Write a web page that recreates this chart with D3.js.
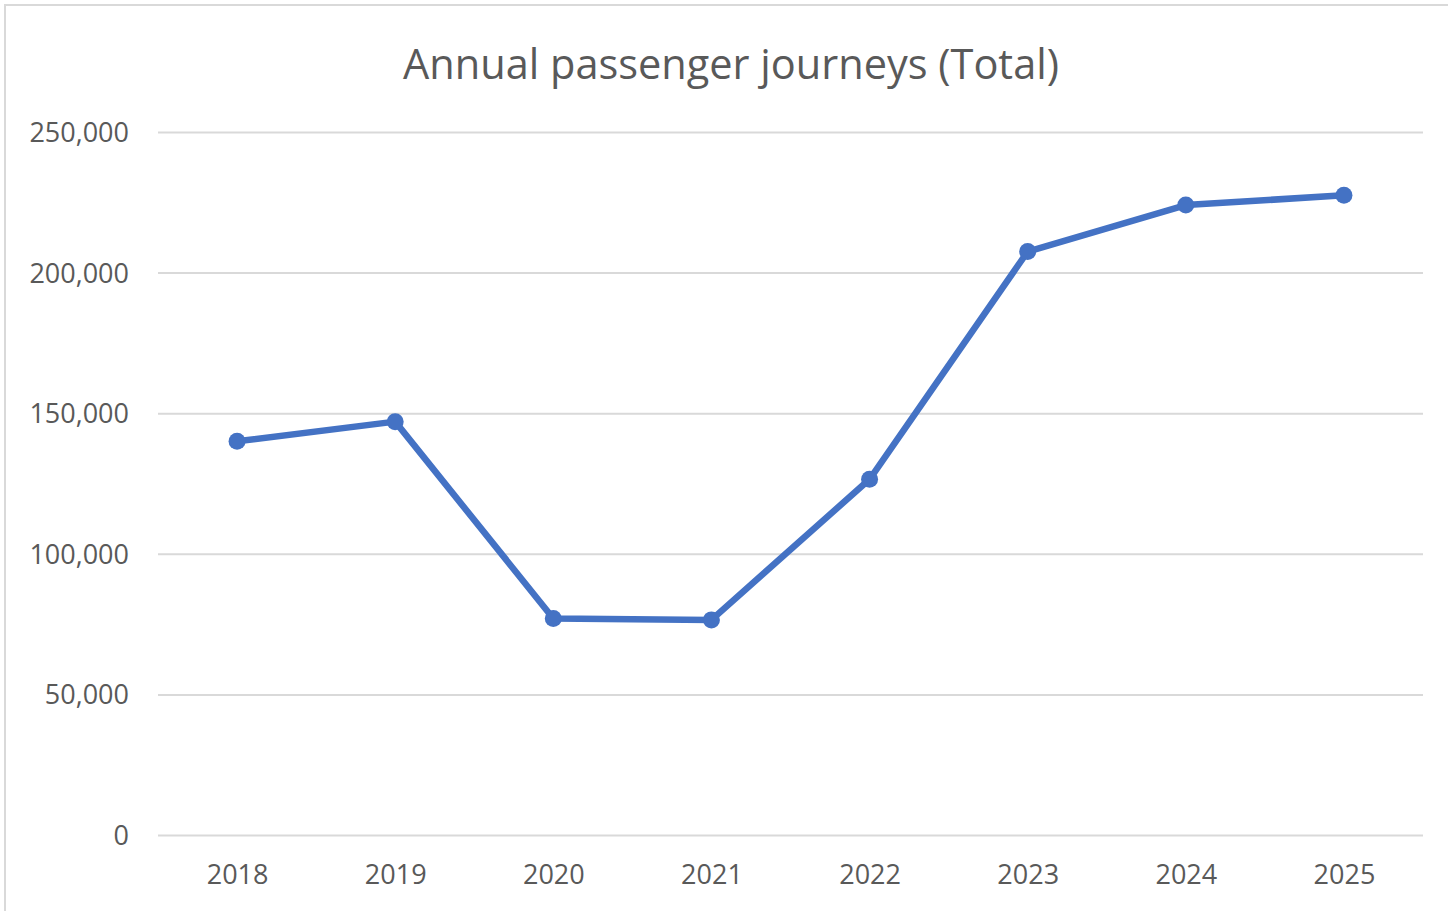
<!DOCTYPE html>
<html>
<head>
<meta charset="utf-8">
<script src="https://cdn.jsdelivr.net/npm/d3@7"></script>
<style>
    body { margin: 0; background: #fff; }
    text { font-family: "Open Sans", "Noto Sans", sans-serif; fill: #595959; }
</style>
</head>
<body>
<svg id="chart"></svg>
<script>
// chart data
var years = ["2018", "2019", "2020", "2021", "2022", "2023", "2024", "2025"];
var journeys = [140000, 147000, 77000, 76500, 126500, 207500, 224000, 227500];
var yTicks = [0, 50000, 100000, 150000, 200000, 250000];
var title = "Annual passenger journeys (Total)";

var width = 1448;
var height = 911;
var margin = { "left": 158, "right": 25, "top": 132, "bottom": 76 };
var plotW = width - margin.left - margin.right;
var plotH = height - margin.top - margin.bottom;

var svg = d3.select("#chart")
    .attr("width", width)
    .attr("height", height);

// outer frame (right and bottom edges fall outside the picture)
svg.append("rect")
    .attr("x", 5)
    .attr("y", 5)
    .attr("width", width + 20)
    .attr("height", height + 20)
    .style("fill", "none")
    .style("stroke", "#d9d9d9")
    .style("stroke-width", 2);

svg.append("text")
    .attr("x", 731)
    .attr("y", 79)
    .attr("text-anchor", "middle")
    .style("font-size", "41.5px")
    .text(title);

var g = svg.append("g")
    .attr("transform", "translate(" + margin.left + "," + margin.top + ")");

var x = d3.scalePoint()
    .domain(years)
    .range([0, plotW])
    .padding(0.5);

var y = d3.scaleLinear()
    .domain([0, 250000])
    .range([plotH, 0]);

// gridlines
g.append("g")
    .attr("class", "grid")
    .call(d3.axisLeft(y).tickValues(yTicks).tickSize(-plotW).tickFormat(""))
    .call(a => a.select(".domain").remove())
    .call(a => a.selectAll("line").style("stroke", "#d9d9d9").style("stroke-width", 2));

// y labels
g.append("g")
    .attr("transform", "translate(-26,0)")
    .call(d3.axisLeft(y).tickValues(yTicks).tickSize(0).tickFormat(d3.format(",")))
    .call(a => a.select(".domain").remove())
    .call(a => a.selectAll("text").style("font-size", "27px").style("fill", "#595959").attr("dy", "0.35em"));

// x labels
g.append("g")
    .attr("transform", "translate(0," + plotH + ")")
    .call(d3.axisBottom(x).tickSize(0).tickPadding(30))
    .call(a => a.select(".domain").remove())
    .call(a => a.selectAll("text").style("font-size", "27px").style("fill", "#595959"));

var lineFn = d3.line()
    .x((d, i) => x(years[i]))
    .y(d => y(d));

g.append("path")
    .datum(journeys)
    .attr("d", lineFn)
    .style("fill", "none")
    .style("stroke", "#4472c4")
    .style("stroke-width", 6.5)
    .style("stroke-linejoin", "round");

g.selectAll(".dot")
    .data(journeys).enter()
    .append("circle")
    .attr("class", "dot")
    .attr("cx", (d, i) => x(years[i]))
    .attr("cy", d => y(d))
    .attr("r", 8.5)
    .style("fill", "#4472c4");
</script>
</body>
</html>
